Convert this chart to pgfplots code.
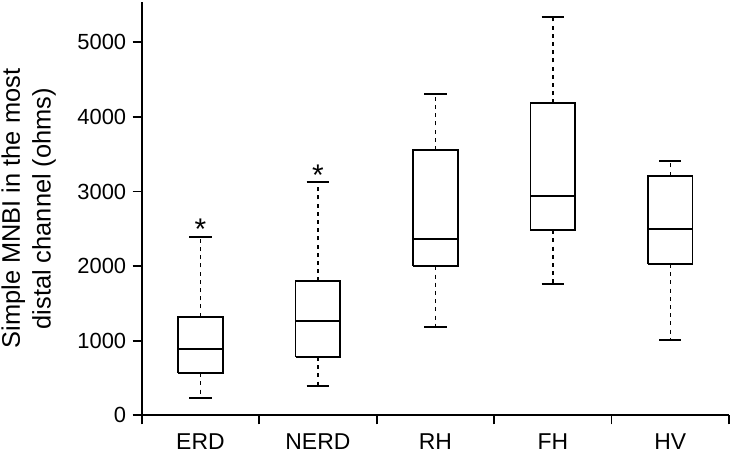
\documentclass[border=0pt]{standalone}
\usepackage{fontspec}
\setmainfont{Liberation Sans}
\usepackage{pgfplots}
\pgfplotsset{compat=1.18}
\begin{document}
\begin{tikzpicture}
\begin{axis}[
  name=ax,
  scale only axis,
  width=587.3bp, height=413.3bp,
  xmin=0.5, xmax=5.5,
  ymin=0, ymax=5540,
  axis x line*=bottom, axis y line*=left,
  axis line style={line width=1.8bp, black},
  tick align=outside,
  major tick length=9bp,
  minor tick length=9bp,
  tick style={line width=1.8bp, black},
  xtick={1,2,3,4,5},
  xticklabels={ERD,NERD,RH,FH,HV},
  minor xtick={0.5,1.5,2.5,3.5,4.5,5.5},
  major x tick style={draw=none},
  xticklabel style={font=\fontsize{23}{23}\selectfont, yshift=-5.5bp},
  ytick={0,1000,2000,3000,4000,5000},
  yticklabels={0,1000,2000,3000,4000,5000},
  yticklabel style={font=\fontsize{22}{22}\selectfont, xshift=-3bp},
  ylabel={Simple MNBI in the most\\distal channel (ohms)},
  ylabel style={align=center, font=\fontsize{25.5}{31}\selectfont,
    at={(axis description cs:-0.1924,0.5)}, anchor=center},
  clip=false,
  box/.style={black, line width=1.75bp, line join=miter, mark=none},
  whisk/.style={black, line width=1.45bp, dash pattern=on 4bp off 4.2bp, mark=none},
  cap/.style={black, line width=1.75bp, mark=none},
]
% ERD: 232, 563, 893, 1322, 2394
\addplot[box] coordinates {(0.81,563) (1.19,563) (1.19,1322) (0.81,1322) (0.81,563)};
\addplot[box] coordinates {(0.81,893) (1.19,893)};
\addplot[whisk] coordinates {(1,1322) (1,2394)};
\addplot[whisk] coordinates {(1,563) (1,232)};
\addplot[cap] coordinates {(0.905,2394) (1.095,2394)};
\addplot[cap] coordinates {(0.905,232) (1.095,232)};
% NERD: 397, 781, 1260, 1796, 3123
\addplot[box] coordinates {(1.81,781) (2.19,781) (2.19,1796) (1.81,1796) (1.81,781)};
\addplot[box] coordinates {(1.81,1260) (2.19,1260)};
\addplot[whisk] coordinates {(2,1796) (2,3123)};
\addplot[whisk] coordinates {(2,781) (2,397)};
\addplot[cap] coordinates {(1.905,3123) (2.095,3123)};
\addplot[cap] coordinates {(1.905,397) (2.095,397)};
% RH: 1188, 1997, 2359, 3556, 4303
\addplot[box] coordinates {(2.81,1997) (3.19,1997) (3.19,3556) (2.81,3556) (2.81,1997)};
\addplot[box] coordinates {(2.81,2359) (3.19,2359)};
\addplot[whisk] coordinates {(3,3556) (3,4303)};
\addplot[whisk] coordinates {(3,1997) (3,1188)};
\addplot[cap] coordinates {(2.905,4303) (3.095,4303)};
\addplot[cap] coordinates {(2.905,1188) (3.095,1188)};
% FH: 1764, 2480, 2944, 4182, 5343
\addplot[box] coordinates {(3.81,2480) (4.19,2480) (4.19,4182) (3.81,4182) (3.81,2480)};
\addplot[box] coordinates {(3.81,2944) (4.19,2944)};
\addplot[whisk] coordinates {(4,4182) (4,5343)};
\addplot[whisk] coordinates {(4,2480) (4,1764)};
\addplot[cap] coordinates {(3.905,5343) (4.095,5343)};
\addplot[cap] coordinates {(3.905,1764) (4.095,1764)};
% HV: 1009, 2028, 2497, 3212, 3409
\addplot[box] coordinates {(4.81,2028) (5.19,2028) (5.19,3212) (4.81,3212) (4.81,2028)};
\addplot[box] coordinates {(4.81,2497) (5.19,2497)};
\addplot[whisk] coordinates {(5,3212) (5,3409)};
\addplot[whisk] coordinates {(5,2028) (5,1009)};
\addplot[cap] coordinates {(4.905,3409) (5.095,3409)};
\addplot[cap] coordinates {(4.905,1009) (5.095,1009)};
% outliers marked with asterisks
\addplot[draw=none, mark=none, nodes near coords={*},
  every node near coord/.append style={anchor=center, inner sep=0pt,
    font=\fontsize{30}{30}\selectfont, black}]
  coordinates {(1,2500) (2,3222)};
\end{axis}
\pgfresetboundingbox
\path[use as bounding box] ([xshift=-141.7bp,yshift=-37.7bp]ax.south west) rectangle ([xshift=589.3bp,yshift=415.3bp]ax.south west);
\end{tikzpicture}
\end{document}
